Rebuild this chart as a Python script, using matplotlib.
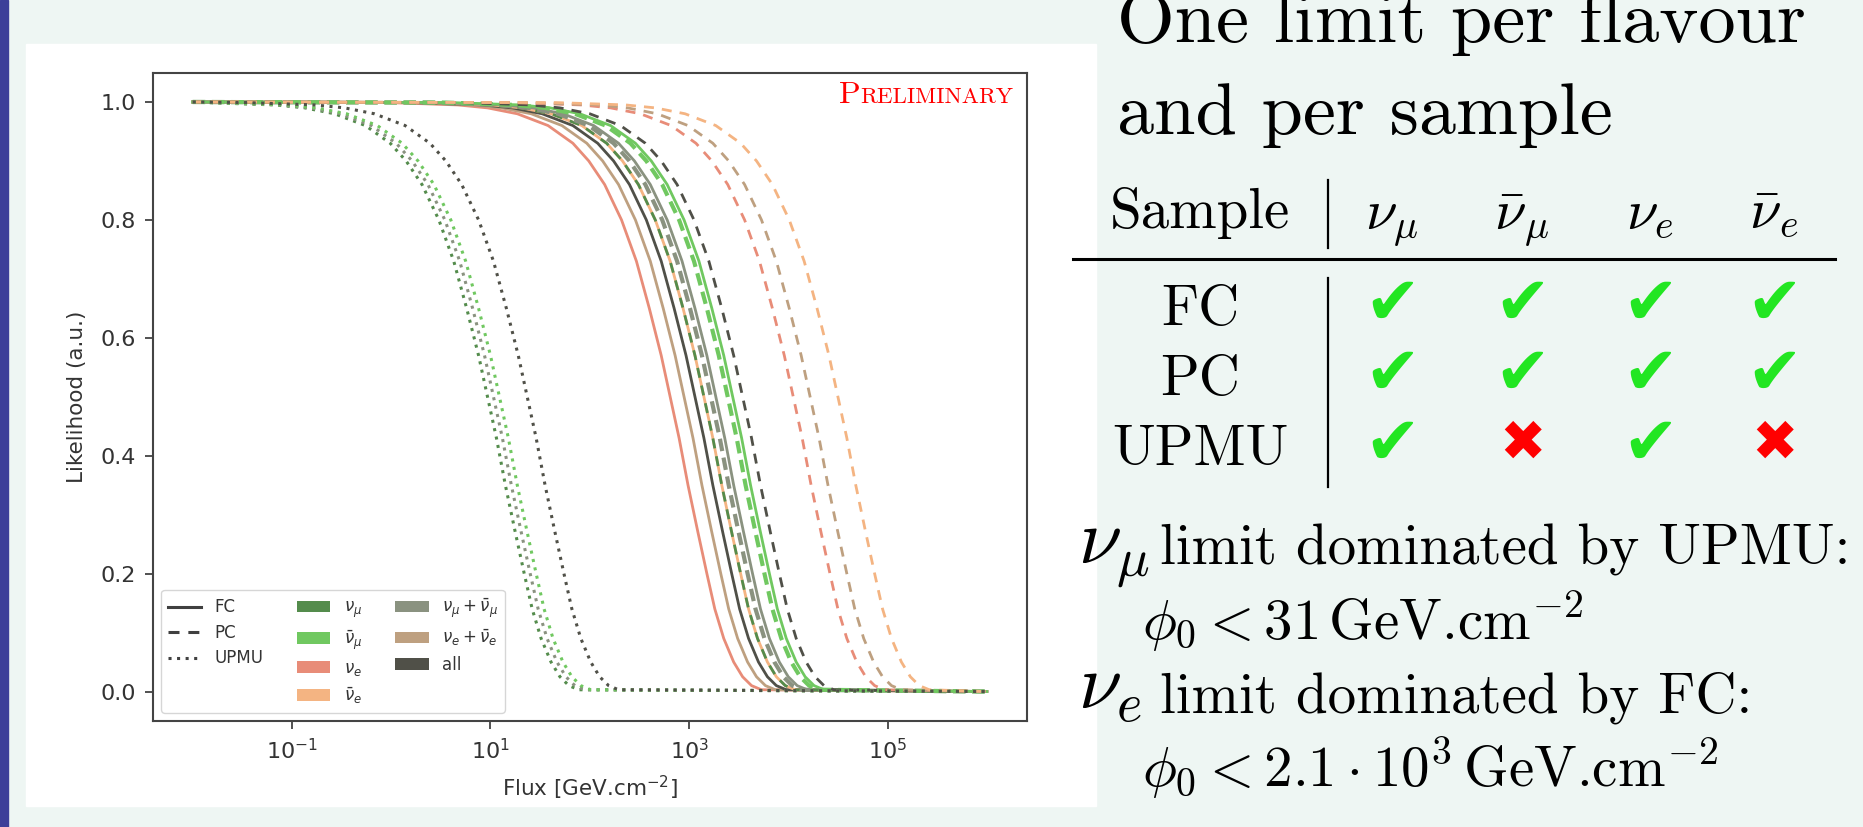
import numpy as np
import matplotlib.pyplot as plt
from matplotlib.lines import Line2D
from matplotlib.patches import Patch, Rectangle

W, H = 1863, 827

levels = [1.0, 0.999, 0.995, 0.99, 0.98, 0.96, 0.93, 0.9, 0.86, 0.8, 0.73, 0.65, 0.57,
          0.5, 0.43, 0.35, 0.27, 0.2, 0.14, 0.09, 0.05, 0.025, 0.01, 0.003, 0.0]

# log10(flux) of each curve at those levels
# FC (solid)
fc_nue = [-2, -0.03, 0.67, 0.97, 1.27, 1.58, 1.83, 1.99, 2.15, 2.32, 2.47, 2.60, 2.72,
          2.81, 2.90, 2.99, 3.09, 3.18, 3.26, 3.35, 3.45, 3.54, 3.63, 3.73, 6]
fc_nuee = [-2, 0.11, 0.81, 1.11, 1.41, 1.72, 1.97, 2.13, 2.29, 2.46, 2.61, 2.74, 2.86,
           2.95, 3.04, 3.13, 3.23, 3.32, 3.40, 3.49, 3.59, 3.68, 3.77, 3.87, 6]
fc_all = [-2, 0.22, 0.92, 1.22, 1.52, 1.83, 2.08, 2.24, 2.40, 2.57, 2.72, 2.85, 2.97,
          3.06, 3.15, 3.24, 3.34, 3.43, 3.51, 3.60, 3.70, 3.79, 3.88, 3.98, 6]
fc_nuebar = [-2, 0.31, 1.01, 1.31, 1.61, 1.92, 2.17, 2.33, 2.49, 2.66, 2.81, 2.94, 3.06,
             3.15, 3.24, 3.33, 3.43, 3.52, 3.60, 3.69, 3.79, 3.88, 3.97, 4.07, 6]
fc_numumu = [-2, 0.43, 1.13, 1.43, 1.73, 2.04, 2.29, 2.45, 2.61, 2.78, 2.93, 3.06, 3.18,
             3.27, 3.36, 3.45, 3.55, 3.64, 3.72, 3.81, 3.91, 4.00, 4.09, 4.19, 6]
fc_numubar = [-2, 0.60, 1.30, 1.60, 1.90, 2.21, 2.46, 2.62, 2.78, 2.95, 3.10, 3.23, 3.35,
              3.44, 3.53, 3.62, 3.72, 3.81, 3.89, 3.98, 4.08, 4.17, 4.26, 4.36, 6]
# PC (dashed)
pc_numu = [-2, 0.31, 1.01, 1.31, 1.61, 1.92, 2.17, 2.33, 2.49, 2.66, 2.81, 2.94, 3.06,
           3.15, 3.24, 3.33, 3.43, 3.52, 3.60, 3.69, 3.79, 3.88, 3.97, 4.07, 6]
pc_numumu = [-2, 0.38, 1.08, 1.38, 1.68, 1.99, 2.24, 2.40, 2.56, 2.73, 2.88, 3.01, 3.13,
             3.22, 3.31, 3.40, 3.50, 3.59, 3.67, 3.76, 3.86, 3.95, 4.04, 4.14, 6]
pc_numubar = [-2, 0.55, 1.25, 1.55, 1.85, 2.16, 2.41, 2.57, 2.73, 2.90, 3.05, 3.18, 3.30,
              3.39, 3.48, 3.57, 3.67, 3.76, 3.84, 3.93, 4.03, 4.12, 4.21, 4.31, 6]
pc_all = [-2, 0.70, 1.40, 1.70, 2.00, 2.31, 2.56, 2.72, 2.88, 3.05, 3.20, 3.33, 3.45,
          3.54, 3.63, 3.72, 3.82, 3.91, 3.99, 4.08, 4.18, 4.27, 4.36, 4.46, 6]
pc_nue = [-2, 1.21, 1.91, 2.21, 2.51, 2.82, 3.07, 3.23, 3.39, 3.56, 3.71, 3.84, 3.96,
          4.05, 4.14, 4.23, 4.33, 4.42, 4.50, 4.59, 4.69, 4.78, 4.87, 4.97, 6]
pc_nuee = [-2, 1.38, 2.08, 2.38, 2.68, 2.99, 3.24, 3.40, 3.56, 3.73, 3.88, 4.01, 4.13,
           4.22, 4.31, 4.40, 4.50, 4.59, 4.67, 4.76, 4.86, 4.95, 5.04, 5.14, 6]
pc_nuebar = [-2, 1.66, 2.36, 2.66, 2.96, 3.27, 3.52, 3.68, 3.84, 4.01, 4.16, 4.29, 4.41,
             4.50, 4.59, 4.68, 4.78, 4.87, 4.95, 5.04, 5.14, 5.23, 5.32, 5.42, 6]
# UPMU (dotted)
up_numu = [-2, -1.87, -1.17, -0.87, -0.57, -0.26, -0.01, 0.15, 0.31, 0.48, 0.63, 0.76, 0.88,
           0.97, 1.06, 1.15, 1.25, 1.34, 1.42, 1.51, 1.61, 1.70, 1.79, 1.89, 6]
up_numumu = [-2, -1.81, -1.11, -0.81, -0.51, -0.20, 0.05, 0.21, 0.37, 0.54, 0.69, 0.82, 0.94,
             1.03, 1.12, 1.21, 1.31, 1.40, 1.48, 1.57, 1.67, 1.76, 1.85, 1.95, 6]
up_numubar = [-2, -1.75, -1.05, -0.75, -0.45, -0.14, 0.11, 0.27, 0.43, 0.60, 0.75, 0.88, 1.00,
              1.09, 1.18, 1.27, 1.37, 1.46, 1.54, 1.63, 1.73, 1.82, 1.91, 2.01, 6]
up_all = [-2, -1.47, -0.77, -0.47, -0.17, 0.14, 0.39, 0.55, 0.71, 0.88, 1.03, 1.16, 1.28,
          1.37, 1.46, 1.55, 1.65, 1.74, 1.82, 1.91, 2.01, 2.10, 2.19, 2.29, 6]

flav_labels = [r'$\nu_\mu$', r'$\bar{\nu}_\mu$', r'$\nu_e$', r'$\bar{\nu}_e$',
               r'$\nu_\mu + \bar{\nu}_\mu$', r'$\nu_e + \bar{\nu}_e$', 'all']
flav_colors = ['#548c4c', '#70c860', '#e88c78', '#f4b482', '#8a9280', '#bea080', '#505048']
c_numu, c_numubar, c_nue, c_nuebar, c_numumu, c_nuee, c_all = flav_colors

curves = [
    (fc_nue, c_nue, 'fc'), (fc_nuee, c_nuee, 'fc'), (fc_all, c_all, 'fc'),
    (fc_nuebar, c_nuebar, 'fc'), (fc_numumu, c_numumu, 'fc'), (fc_numubar, c_numubar, 'fc'),
    (pc_numu, c_numu, 'pc'), (pc_numumu, c_numumu, 'pcw'), (pc_numubar, c_numubar, 'pcw'),
    (pc_all, c_all, 'pc'), (pc_nue, c_nue, 'pc'), (pc_nuee, c_nuee, 'pc'), (pc_nuebar, c_nuebar, 'pc'),
    (up_numu, c_numu, 'up'), (up_numumu, c_numumu, 'up'), (up_numubar, c_numubar, 'up'),
    (up_all, c_all, 'up'),
]
styles = {'fc': dict(ls='-', lw=2.0),
          'pc': dict(ls=(0, (3.6, 2.9)), lw=2.0),
          'pcw': dict(ls=(0, (3.0, 1.6)), lw=3.0),
          'up': dict(ls=(0, (1, 1.8)), lw=2.2)}

fig = plt.figure(figsize=(W / 100, H / 100), dpi=100, facecolor='#eef6f3')
fig.patches.append(Rectangle((0, 0), 8 / W, 1, transform=fig.transFigure,
                             color='#3c3f99', zorder=-2))
fig.patches.append(Rectangle((26 / W, 1 - 806 / H), (1096 - 26) / W, (806 - 44) / H,
                             transform=fig.transFigure, color='white', zorder=-2))

ax = fig.add_axes([153 / W, 1 - 721 / H, (1026.5 - 153) / W, (721 - 72.5) / H])
for logx, col, st in curves:
    ax.plot(10.0 ** np.array(logx), levels, color=col, solid_joinstyle='round', **styles[st])

ax.set_xscale('log')
ax.set_xlim(10 ** -2.4, 10 ** 6.4)
ax.set_ylim(-0.05, 1.05)
ax.set_xticks([1e-1, 1e1, 1e3, 1e5])
ax.xaxis.set_minor_locator(plt.NullLocator())
ax.set_yticks([0.0, 0.2, 0.4, 0.6, 0.8, 1.0])
ax.set_yticklabels(['0.0', '0.2', '0.4', '0.6', '0.8', '1.0'])
ax.tick_params(labelsize=16, length=6, width=1.2, pad=6, colors='#333333')
for sp in ax.spines.values():
    sp.set_color('#444444')
    sp.set_linewidth(1.5)
ax.set_xlabel(r'Flux [GeV.cm$^{-2}$]', fontsize=15.5, color='#333333', labelpad=8)
ax.set_ylabel('Likelihood (a.u.)', fontsize=15.5, color='#333333', labelpad=10)

# legend: line styles + colours
blank = Line2D([], [], color='none')
handles = [Line2D([], [], color='#404040', lw=2.2, ls='-'),
           Line2D([], [], color='#404040', lw=2.2, ls=(0, (3.6, 2.9))),
           Line2D([], [], color='#404040', lw=2.2, ls=(0, (1, 1.8))),
           blank]
labels = ['FC', 'PC', 'UPMU', '']
for lab, col in zip(flav_labels, flav_colors):
    handles.append(Patch(facecolor=col, edgecolor='none'))
    labels.append(lab)
handles.append(blank)
labels.append('')
ax.legend(handles, labels, ncol=3, loc='lower left', fontsize=12, labelspacing=0.45,
          handlelength=2.0, columnspacing=2.0, labelcolor='#333333')

# "Preliminary" in small caps
y_pre = (1.0 + 0.05) / 1.1 - 0.002
t_rel = ax.text(0.985, y_pre, 'RELIMINARY', transform=ax.transAxes,
                fontsize=16.5, family='cmr10', color='red', ha='right', va='baseline')
ax.annotate('P', xy=(0, y_pre), xycoords=(t_rel, 'axes fraction'),
            fontsize=23, family='cmr10', color='red', ha='right', va='baseline')


def fx(x):
    return x / W


def fy(y):
    return 1 - y / H


txt = dict(family='cmr10', math_fontfamily='cm', color='black', va='baseline')

fig.text(fx(1117), fy(42), 'One limit per flavour', fontsize=53.5, **txt)
fig.text(fx(1117), fy(134), 'and per sample', fontsize=53.5, **txt)

# table
table_samples = ['FC', 'PC', 'UPMU']
table_flavours = [r'$\nu_\mu$', r'$\bar{\nu}_\mu$', r'$\nu_e$', r'$\bar{\nu}_e$']
table_ok = [[True, True, True, True],
            [True, True, True, True],
            [True, False, True, False]]
col_x = [1392, 1522, 1650, 1774]
row_y = [325, 395, 465]

fig.text(fx(1200), fy(228), 'Sample', fontsize=41, ha='center', **txt)
for cx, lab in zip(col_x, table_flavours):
    fig.text(fx(cx), fy(228), lab, fontsize=41, ha='center', **txt)
for ry, lab, oks in zip(row_y, table_samples, table_ok):
    fig.text(fx(1200), fy(ry), lab, fontsize=41, ha='center', **txt)
    for cx, ok in zip(col_x, oks):
        if ok:
            fig.text(fx(cx), fy(ry - 20), '\u2714', fontsize=48, color='#22e622',
                     ha='center', va='center', family='DejaVu Sans')
        else:
            fig.text(fx(cx), fy(ry - 20), '\u2716', fontsize=40, color='#ff0000',
                     ha='center', va='center', family='DejaVu Sans')

fig.add_artist(Line2D([fx(1073), fx(1835)], [fy(259), fy(259)], color='black', lw=2.2))
fig.add_artist(Line2D([fx(1328), fx(1328)], [fy(180), fy(248)], color='black', lw=1.6))
fig.add_artist(Line2D([fx(1328), fx(1328)], [fy(278), fy(487)], color='black', lw=1.6))

# conclusions
fig.text(fx(1078), fy(562), r'$\nu_\mu$', fontsize=56, **txt)
fig.text(fx(1160), fy(565), 'limit dominated by UPMU:', fontsize=41, **txt)
fig.text(fx(1142), fy(640), r'$\phi_0 < 31\,$GeV.cm$^{-2}$', fontsize=41, **txt)
fig.text(fx(1078), fy(709), r'$\nu_e$', fontsize=56, **txt)
fig.text(fx(1160), fy(712), 'limit dominated by FC:', fontsize=41, **txt)
fig.text(fx(1142), fy(787), r'$\phi_0 < 2.1\cdot10^3\,$GeV.cm$^{-2}$', fontsize=41, **txt)

fig.savefig('out.png', dpi=100, facecolor=fig.get_facecolor())
